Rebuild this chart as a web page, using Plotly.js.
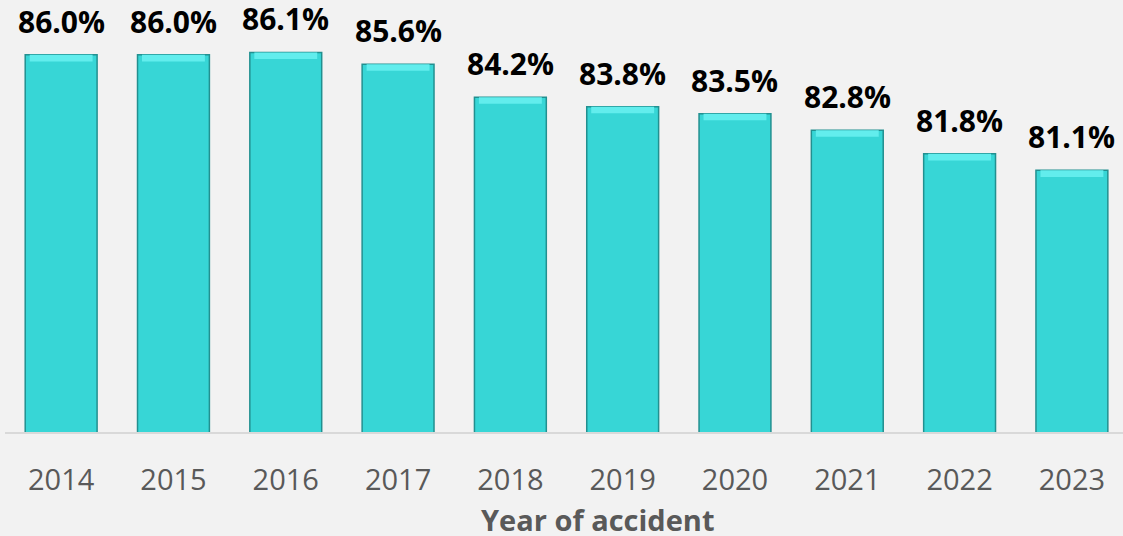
<!DOCTYPE html>
<html>
<head>
<meta charset="utf-8">
<script src="https://cdn.plot.ly/plotly-3.0.1.min.js"></script>
<style>
html,body{margin:0;padding:0;background:#f2f2f2;}
#chart{width:1123px;height:536px;}
</style>
</head>
<body>
<div id="chart"></div>
<script>
const years = ['2014','2015','2016','2017','2018','2019','2020','2021','2022','2023'];
const shares = [86.0, 86.0, 86.1, 85.6, 84.2, 83.8, 83.5, 82.8, 81.8, 81.1];
const xTitle = 'Year of accident';

const FONT = '"Open Sans", "Noto Sans", sans-serif';
const yMin = 70, pxPerUnit = 23.6, plotH = 432.5;
const yMax = yMin + plotH / pxPerUnit;
const bevel = 0.28;

const main = {
  type: 'bar', x: years, y: shares, width: 0.64,
  marker: {color: '#37d6d6', line: {color: '#229090', width: 1.5}},
  hoverinfo: 'skip', showlegend: false
};
const topStrip = {
  type: 'bar', x: years, y: shares.map(() => bevel), base: shares.map(v => v - bevel),
  width: 0.56,
  marker: {color: '#62eded', line: {width: 0}},
  hoverinfo: 'skip', showlegend: false
};

const annotations = years.map((yr, i) => ({
  x: i, y: shares[i], xref: 'x', yref: 'y',
  text: '<b>' + shares[i].toFixed(1) + '%</b>', showarrow: false,
  yanchor: 'bottom', yshift: 11,
  font: {family: FONT, size: 30, color: '#000000'}
}));
annotations.push({
  x: (598 - 5) / 1118, xref: 'paper', y: 0, yref: 'paper',
  text: '<b>' + xTitle + '</b>', showarrow: false,
  xanchor: 'center', yanchor: 'middle', yshift: -87,
  font: {family: FONT, size: 29, color: '#595959'}
});

const layout = {
  width: 1123, height: 536,
  paper_bgcolor: '#f2f2f2', plot_bgcolor: '#f2f2f2',
  margin: {l: 5, r: 0, t: 0, b: 536 - plotH},
  barmode: 'overlay',
  xaxis: {
    type: 'category', range: [-0.5, 9.455], fixedrange: true,
    showline: true, linecolor: '#d9d9d9', linewidth: 1.5,
    ticks: '', ticklabelstandoff: 22,
    tickfont: {family: FONT, size: 29, color: '#595959'}
  },
  yaxis: {range: [yMin, yMax], visible: false, fixedrange: true},
  annotations: annotations
};

Plotly.newPlot('chart', [main, topStrip], layout, {displayModeBar: false, staticPlot: true});
</script>
</body>
</html>
